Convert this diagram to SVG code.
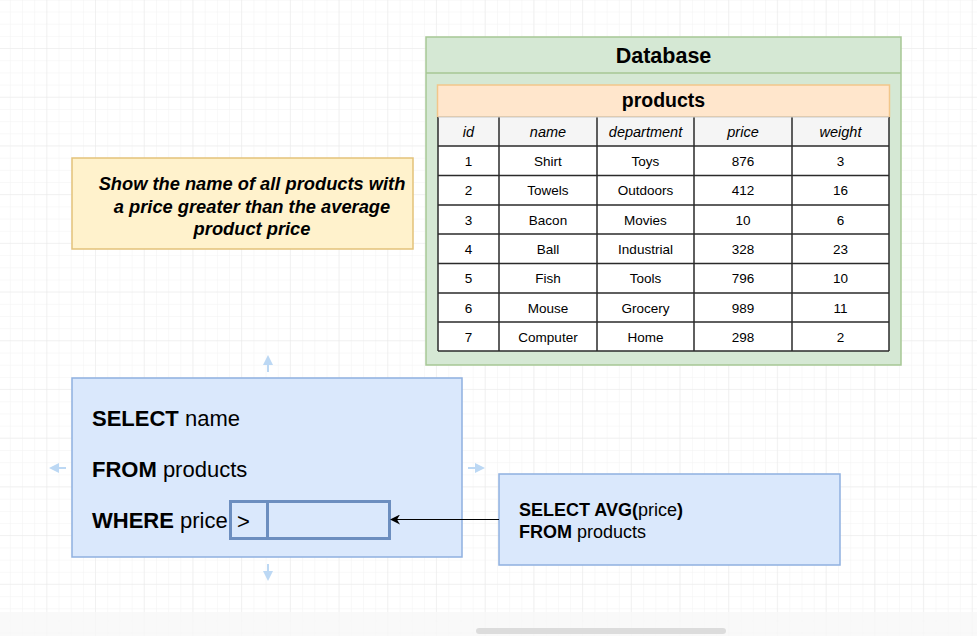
<svg xmlns="http://www.w3.org/2000/svg" width="977" height="636" viewBox="0 0 977 636">
<defs>
<pattern id="minor" x="-1.4" y="0.3" width="12.18" height="12.18" patternUnits="userSpaceOnUse">
<path d="M12.18 0V12.18M0 12.18H12.18" fill="none" stroke="#f2f2f2" stroke-width="1"/>
</pattern>
<pattern id="major" x="-1.4" y="0.3" width="48.7" height="48.7" patternUnits="userSpaceOnUse">
<path d="M48.7 0V48.7M0 48.7H48.7" fill="none" stroke="#e9e9e9" stroke-width="1"/>
</pattern>
<marker id="arr" viewBox="0 0 10 10" refX="9" refY="5" markerWidth="10" markerHeight="10" markerUnits="userSpaceOnUse" orient="auto">
<path d="M0 0L10 5L0 10L3 5Z" fill="#000"/>
</marker>
<marker id="harr" viewBox="0 0 10 10" refX="5" refY="5" markerWidth="10" markerHeight="10" markerUnits="userSpaceOnUse" orient="auto">
<path d="M0 0L10 5L0 10Z" fill="#bcd8f4"/>
</marker>
</defs>
<style>
text{font-family:"Liberation Sans",Arial,sans-serif;fill:#000}
.b{font-weight:bold}
.hdr{font-style:italic;font-size:14.5px;fill:#333;text-anchor:middle}
.cell{font-size:13.5px;fill:#222;text-anchor:middle}
.sql{font-size:22px}
.sql2{font-size:18px}
.grid{fill:none;stroke:#2b2b2b;stroke-width:1.5}
.handle{stroke:#bcd8f4;stroke-width:2;fill:none}
</style>
<rect width="977" height="636" fill="#fff"/>
<rect width="977" height="636" fill="url(#minor)"/>
<rect width="977" height="636" fill="url(#major)"/>
<rect x="0" y="612" width="977" height="24" fill="#f8f8f8" opacity="0.8"/>
<rect x="476" y="628" width="250" height="6" rx="3" fill="#dcdcdc"/>

<g id="database">
<rect x="426" y="37" width="475" height="328" fill="#d5e8d4" stroke="#a6c795" stroke-width="1.5"/>
<line x1="426" y1="73" x2="901" y2="73" stroke="#a6c795" stroke-width="1.5"/>
<text x="663.5" y="63" class="b" font-size="21.5" text-anchor="middle">Database</text>
</g>

<g id="products">
<rect x="437.5" y="85" width="452" height="32" fill="#ffe6cc" stroke="#f2c68a" stroke-width="1.5"/>
<text x="663.5" y="107" class="b" font-size="19.5" text-anchor="middle">products</text>
<rect x="438" y="117" width="451" height="29" fill="#f5f5f5"/>
<rect x="438" y="146" width="451" height="205" fill="#fff"/>
<path class="grid" d="M438 117V351M499 117V351M597 117V351M694 117V351M792 117V351M889 117V351M438 146H889M438 175.5H889M438 205H889M438 234H889M438 263.5H889M438 293H889M438 322H889M438 351H889"/>
<path d="M438 117H889" stroke="#c9c9c9" stroke-width="1"/>
<g class="hdr">
<text x="468.5" y="137">id</text><text x="548" y="137">name</text><text x="645.5" y="137">department</text><text x="743" y="137">price</text><text x="840.5" y="137">weight</text>
</g>
<g class="cell">
<text x="468.5" y="166">1</text><text x="548" y="166">Shirt</text><text x="645.5" y="166">Toys</text><text x="743" y="166">876</text><text x="840.5" y="166">3</text>
<text x="468.5" y="195">2</text><text x="548" y="195">Towels</text><text x="645.5" y="195">Outdoors</text><text x="743" y="195">412</text><text x="840.5" y="195">16</text>
<text x="468.5" y="224.5">3</text><text x="548" y="224.5">Bacon</text><text x="645.5" y="224.5">Movies</text><text x="743" y="224.5">10</text><text x="840.5" y="224.5">6</text>
<text x="468.5" y="254">4</text><text x="548" y="254">Ball</text><text x="645.5" y="254">Industrial</text><text x="743" y="254">328</text><text x="840.5" y="254">23</text>
<text x="468.5" y="283">5</text><text x="548" y="283">Fish</text><text x="645.5" y="283">Tools</text><text x="743" y="283">796</text><text x="840.5" y="283">10</text>
<text x="468.5" y="312.5">6</text><text x="548" y="312.5">Mouse</text><text x="645.5" y="312.5">Grocery</text><text x="743" y="312.5">989</text><text x="840.5" y="312.5">11</text>
<text x="468.5" y="341.5">7</text><text x="548" y="341.5">Computer</text><text x="645.5" y="341.5">Home</text><text x="743" y="341.5">298</text><text x="840.5" y="341.5">2</text>
</g>
</g>

<g id="question">
<rect x="72" y="158" width="341" height="91" fill="#fff2cc" stroke="#e3c27a" stroke-width="1.5"/>
<g class="b" font-style="italic" font-size="18.3" text-anchor="middle">
<text x="252" y="190">Show the name of all products with</text>
<text x="252" y="213">a price greater than the average</text>
<text x="252" y="235">product price</text>
</g>
</g>

<g id="main-query">
<g class="handle">
<line x1="268" y1="372" x2="268" y2="360" marker-end="url(#harr)"/>
<line x1="268" y1="564" x2="268" y2="576" marker-end="url(#harr)"/>
<line x1="66" y1="468" x2="54" y2="468" marker-end="url(#harr)"/>
<line x1="468" y1="468" x2="480" y2="468" marker-end="url(#harr)"/>
</g>
<rect x="72" y="378" width="390" height="179" fill="#dae8fc" stroke="#8fb0e0" stroke-width="1.5"/>
<text x="92" y="426" class="sql"><tspan class="b">SELECT</tspan> name</text>
<text x="92" y="477" class="sql"><tspan class="b">FROM</tspan> products</text>
<text x="92" y="528" class="sql"><tspan class="b">WHERE</tspan> price</text>
<rect x="230.5" y="501.5" width="159" height="37" fill="#dae8fc" stroke="#6c8ebf" stroke-width="3"/>
<line x1="267.5" y1="501.5" x2="267.5" y2="538.5" stroke="#6c8ebf" stroke-width="3"/>
<text x="237" y="529" class="sql">&gt;</text>
</g>

<g id="subquery">
<rect x="499" y="474" width="341" height="91" fill="#dae8fc" stroke="#8fb0e0" stroke-width="1.5"/>
<text x="519" y="516" class="sql2"><tspan class="b">SELECT AVG(</tspan>price<tspan class="b">)</tspan></text>
<text x="519" y="538" class="sql2"><tspan class="b">FROM</tspan> products</text>
</g>

<g id="connectors">
<line x1="499" y1="519.5" x2="391" y2="519.5" stroke="#000" stroke-width="1.2" marker-end="url(#arr)"/>
</g>
</svg>
